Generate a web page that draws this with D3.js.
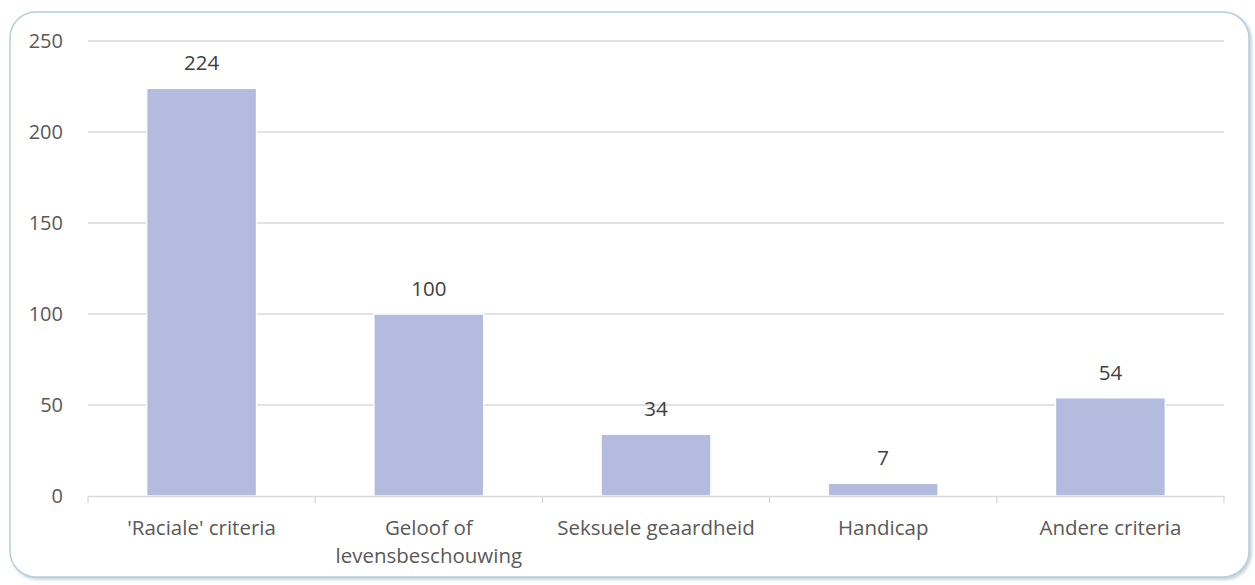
<!DOCTYPE html>
<html><head><meta charset="utf-8">
<script src="https://cdn.jsdelivr.net/npm/d3@7"></script>
<style>body{margin:0;background:#fff}svg{display:block}text{font-family:"Open Sans","Noto Sans",sans-serif}</style>
</head><body>
<svg id="c" width="1255" height="585"></svg>
<script>
const categories = [["'Raciale' criteria"], ["Geloof of", "levensbeschouwing"], ["Seksuele geaardheid"], ["Handicap"], ["Andere criteria"]];
const values = [224, 100, 34, 7, 54];
const yTicks = [0, 50, 100, 150, 200, 250];

(function(){
const svg = d3.select("#c");
const defs = svg.append("defs");
const f = defs.append("filter").attr("id","sh").attr("x","-5%").attr("y","-5%").attr("width","110%").attr("height","110%");
f.append("feDropShadow").attr("dx",2).attr("dy",2).attr("stdDeviation",1.5).attr("flood-color","#9fb3bd").attr("flood-opacity",0.6);

svg.append("rect").attr("x",10).attr("y",12).attr("width",1239).attr("height",565).attr("rx",26)
  .attr("fill","#fff").attr("stroke","#b7d0da").attr("stroke-width",1.5).attr("filter","url(#sh)");

const pLeft = 88, pRight = 1224, pTop = 41, pBottom = 496;
const x = d3.scaleBand().domain(d3.range(categories.length)).range([pLeft, pRight]).paddingInner(0.516).paddingOuter(0.258);
const xb = d3.scaleBand().domain(d3.range(categories.length)).range([pLeft, pRight]);
const y = d3.scaleLinear().domain([0, 250]).range([pBottom, pTop]);

const g = svg.append("g");
g.selectAll("line.grid").data(yTicks.filter(t=>t>0)).join("line")
  .attr("x1",pLeft).attr("x2",pRight).attr("y1",d=>y(d)).attr("y2",d=>y(d))
  .attr("stroke","#d9d9d9").attr("stroke-width",1.3);

const yAxis = d3.axisLeft(y).tickValues(yTicks).tickSize(0).tickPadding(25);
const ya = g.append("g").attr("transform",`translate(${pLeft},0)`).call(yAxis);
ya.select(".domain").remove();
ya.selectAll("text").attr("fill","#595959").attr("font-size",20).attr("font-family","'Open Sans',sans-serif");

g.selectAll("rect.bar").data(values).join("rect").attr("class","bar")
  .attr("x",(d,i)=>x(i)).attr("width",x.bandwidth())
  .attr("y",d=>y(d)).attr("height",d=>y(0)-y(d)).attr("fill","#b3bbdf")
  .attr("stroke","#ffffff").attr("stroke-width",1.5);

g.selectAll("text.lbl").data(values).join("text")
  .attr("x",(d,i)=>x(i)+x.bandwidth()/2).attr("y",d=>y(d)-18)
  .attr("text-anchor","middle").attr("fill","#404040").attr("font-size",20.5).text(d=>d);

const xAxis = d3.axisBottom(xb).tickSize(0).tickFormat("");
const xa = g.append("g").attr("transform",`translate(0,${pBottom})`).call(xAxis);
xa.select(".domain").attr("stroke","#d9d9d9").attr("stroke-width",1.3);
const bounds = d3.range(categories.length+1).map(i=>pLeft + i*xb.step());
g.selectAll("line.tk").data(bounds).join("line")
  .attr("x1",d=>d).attr("x2",d=>d).attr("y1",pBottom).attr("y2",pBottom+7)
  .attr("stroke","#d9d9d9").attr("stroke-width",1.3);

categories.forEach((lines,i)=>{
  const t = g.append("text").attr("x",xb(i)+xb.bandwidth()/2).attr("y",535)
    .attr("text-anchor","middle").attr("fill","#595959").attr("font-size",20.5);
  lines.forEach((l,j)=>t.append("tspan").attr("x",xb(i)+xb.bandwidth()/2).attr("dy",j?28:0).text(l));
});
})();
</script>
</body></html>
